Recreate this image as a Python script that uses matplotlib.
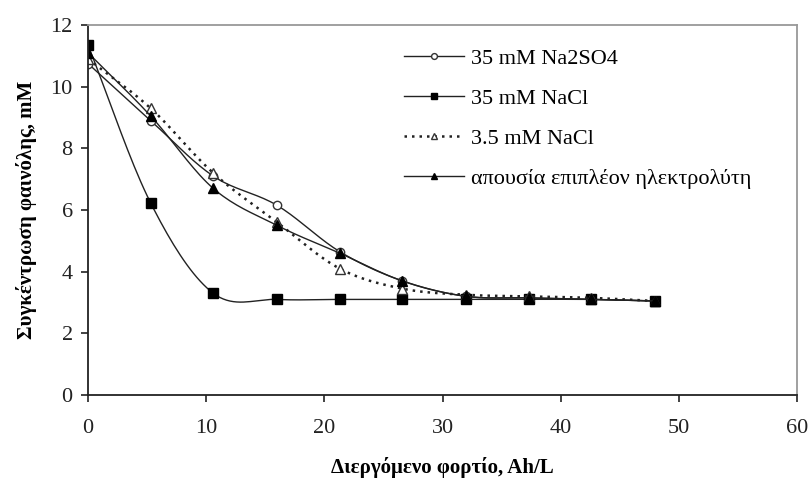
import numpy as np
import matplotlib.pyplot as plt

# Φορτίο (Ah/L) και συγκέντρωση φαινόλης (mM)
charge = [0, 5.3, 10.6, 16.0, 21.3, 26.6, 32.0, 37.3, 42.6, 48.0]
na2so4 = [10.75, 8.9, 7.1, 6.15, 4.65, 3.7, 3.2, 3.15, 3.1, 3.05]
nacl_35 = [11.35, 6.23, 3.3, 3.1, 3.1, 3.1, 3.1, 3.1, 3.1, 3.05]
nacl_3_5 = [10.9, 9.3, 7.2, 5.6, 4.1, 3.45, 3.25, 3.2, 3.15, 3.05]
no_electrolyte = [11.1, 9.05, 6.7, 5.5, 4.6, 3.7, 3.2, 3.15, 3.1, 3.05]

labels = ['35 mM Na2SO4', '35 mM NaCl', '3.5 mM NaCl',
          'απουσία επιπλέον ηλεκτρολύτη']


def smooth(x, y, n=20):
    # Catmull-Rom, όπως η "εξομάλυνση γραμμής" του Excel
    x = np.asarray(x, float)
    y = np.asarray(y, float)
    px = np.concatenate([[2 * x[0] - x[1]], x, [2 * x[-1] - x[-2]]])
    py = np.concatenate([[2 * y[0] - y[1]], y, [2 * y[-1] - y[-2]]])
    t = np.linspace(0, 1, n)[:, None]
    xs, ys = [], []
    for i in range(1, len(px) - 2):
        for p, out in ((px, xs), (py, ys)):
            p0, p1, p2, p3 = p[i - 1], p[i], p[i + 1], p[i + 2]
            c = 0.5 * ((2 * p1) + (-p0 + p2) * t + (2 * p0 - 5 * p1 + 4 * p2 - p3) * t ** 2
                       + (-p0 + 3 * p1 - 3 * p2 + p3) * t ** 3)
            out.append(c.ravel())
    return np.concatenate(xs), np.concatenate(ys)


plt.rcParams['font.family'] = ['Liberation Serif', 'DejaVu Serif']

fig = plt.figure(figsize=(8.09, 4.83), dpi=100)
ax = fig.add_axes([0.1088, 0.1822, 0.8764, 0.7660])

series = [
    (na2so4, dict(marker='o', mfc='white', mec='#333333', ms=6, ls='-', lw=1.0)),
    (nacl_35, dict(marker='s', mfc='black', mec='black', ms=7, ls='-', lw=1.0)),
    (nacl_3_5, dict(marker='^', mfc='white', mec='#333333', ms=7, ls=(0, (1, 2)), lw=1.8)),
    (no_electrolyte, dict(marker='^', mfc='black', mec='black', ms=7, ls='-', lw=1.0)),
]

for (vals, st), lab in zip(series, labels):
    sx, sy = smooth(charge, vals)
    ax.plot(sx, sy, color='#222222', ls=st['ls'], lw=st['lw'])
    ax.plot(charge, vals, ls='none', marker=st['marker'], ms=st['ms'],
            mfc=st['mfc'], mec=st['mec'], mew=1.0)
    # κενή γραμμή για το υπόμνημα
    ax.plot([], [], color='#222222', ls=st['ls'], lw=st['lw'], marker=st['marker'],
            ms=st['ms'] * 0.7, mfc=st['mfc'], mec=st['mec'], label=lab)

ax.set_xlim(0, 60)
ax.set_ylim(0, 12)
ax.set_xticks(range(0, 61, 10))
ax.set_yticks(range(0, 13, 2))
ax.tick_params(direction='out', length=5, width=1.2, labelsize=16, colors='#222222')
ax.tick_params(axis='x', pad=12)
ax.tick_params(axis='y', pad=6)

for s in ('left', 'bottom'):
    ax.spines[s].set_color('#222222')
    ax.spines[s].set_linewidth(1.3)
for s in ('top', 'right'):
    ax.spines[s].set_color('#999999')
    ax.spines[s].set_linewidth(1.3)

ax.set_xlabel('Διεργόμενο φορτίο, Ah/L', fontsize=15, fontweight='bold', labelpad=14)
ax.set_ylabel('Συγκέντρωση φαινόλης, mM', fontsize=15, fontweight='bold', labelpad=10)

handles, labs = ax.get_legend_handles_labels()
ax.legend(handles, labs, loc='upper left', bbox_to_anchor=(0.418, 0.99), frameon=False,
          fontsize=16, handlelength=2.7, labelspacing=0.87, handletextpad=0.3)

plt.savefig('out.png', dpi=100)
